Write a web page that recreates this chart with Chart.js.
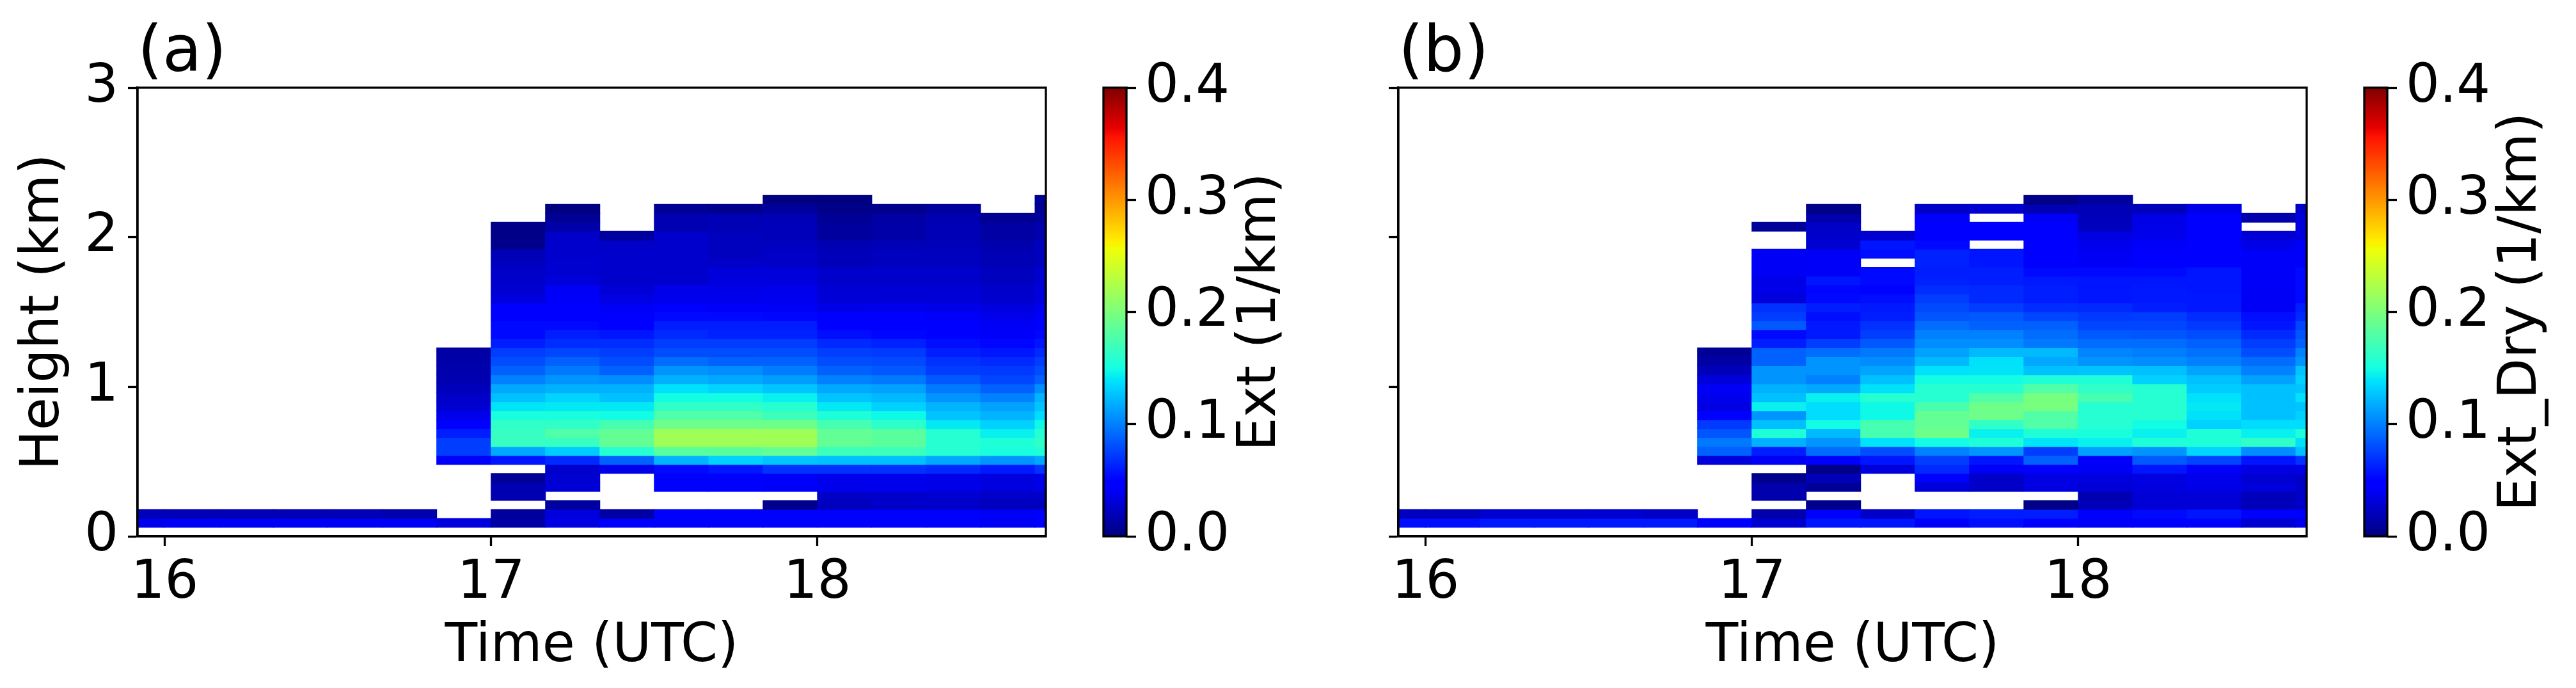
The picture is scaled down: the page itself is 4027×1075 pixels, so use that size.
<!DOCTYPE html>
<html>
<head>
<meta charset="utf-8">
<script src="https://cdn.jsdelivr.net/npm/chart.js@4.4.1/dist/chart.umd.min.js"></script>
<style>
  html, body { margin: 0; padding: 0; background: #fff; }
  #fig { position: relative; width: 4027px; height: 1075px; overflow: hidden; background: #fff; }
  #fig canvas { position: absolute; top: 0; }
</style>
</head>
<body>
<div id="fig">
  <canvas id="heatA" width="1700" height="1075" style="left:0px"></canvas>
  <canvas id="cbarA" width="450" height="1075" style="left:1700px"></canvas>
  <canvas id="heatB" width="1700" height="1075" style="left:1971px"></canvas>
  <canvas id="cbarB" width="356" height="1075" style="left:3671px"></canvas>
</div>
<script>
// time bins (start of each 10 min bin, UTC) and height rows (60 m, first row starts at 0.06 km)
const timeBins = ['15:50', '16:00', '16:10', '16:20', '16:30', '16:40', '16:50', '17:00', '17:10',
                  '17:20', '17:30', '17:40', '17:50', '18:00', '18:10', '18:20', '18:30', '18:40'];
const binMinutes = 10;
const firstRowBottom = 0.06;
const rowDepth = 0.06;

const timeMin = 15 + 55 / 60;
const timeMax = 18.7;
const timeTicks = [16, 17, 18];
const heightTicks = [0, 1, 2, 3];
const cbarTicks = [0, 0.1, 0.2, 0.3, 0.4];
const vMax = 0.4;

// Ext (1/km): one list per time bin, bottom row first, null = no data
const ext = [
  [0.039, 0.021],
  [0.041, 0.020],
  [0.042, 0.019],
  [0.042, 0.019],
  [0.042, 0.019],
  [0.041, 0.016],
  [0.034, null, null, null, null, null, null, 0.043, 0.074, 0.074, 0.062, 0.046, 0.039, 0.029, 0.025, 0.021, 0.018, 0.016, 0.015, 0.013],
  [0.013, 0.011, null, 0.018, 0.018, 0.008, null, 0.058, 0.117, 0.166, 0.167, 0.164, 0.152, 0.140, 0.126, 0.117, 0.101, 0.089, 0.081, 0.074, 0.062, 0.054, 0.054, 0.046, 0.046, 0.034, 0.029, 0.027, 0.025, 0.023, 0.020, 0.005, 0.004, 0.004],
  [0.035, 0.034, 0.011, null, 0.030, 0.029, 0.027, 0.066, 0.130, 0.166, 0.179, 0.164, 0.152, 0.142, 0.134, 0.119, 0.109, 0.097, 0.089, 0.077, 0.068, 0.062, 0.054, 0.046, 0.046, 0.043, 0.041, 0.032, 0.029, 0.029, 0.027, 0.027, 0.025, 0.015, 0.008, 0.001],
  [0.044, 0.014, null, null, null, null, 0.037, 0.089, 0.159, 0.189, 0.189, 0.174, 0.150, 0.142, 0.125, 0.119, 0.105, 0.089, 0.081, 0.075, 0.068, 0.058, 0.046, 0.046, 0.042, 0.035, 0.030, 0.028, 0.027, 0.027, 0.027, 0.026, 0.012],
  [0.046, 0.046, null, null, 0.046, 0.046, 0.054, 0.121, 0.183, 0.218, 0.218, 0.193, 0.179, 0.164, 0.150, 0.138, 0.119, 0.109, 0.093, 0.081, 0.074, 0.066, 0.062, 0.054, 0.044, 0.039, 0.039, 0.027, 0.027, 0.027, 0.027, 0.027, 0.027, 0.018, 0.018, 0.008],
  [0.046, 0.046, null, null, 0.046, 0.046, 0.058, 0.132, 0.183, 0.218, 0.218, 0.193, 0.179, 0.164, 0.150, 0.134, 0.117, 0.105, 0.089, 0.081, 0.074, 0.064, 0.062, 0.054, 0.043, 0.039, 0.037, 0.034, 0.032, 0.025, 0.023, 0.022, 0.022, 0.020, 0.020, 0.005],
  [0.046, 0.046, 0.005, null, 0.043, 0.043, 0.070, 0.128, 0.189, 0.218, 0.218, 0.193, 0.169, 0.159, 0.145, 0.128, 0.111, 0.099, 0.089, 0.081, 0.074, 0.064, 0.062, 0.052, 0.041, 0.040, 0.039, 0.033, 0.032, 0.025, 0.025, 0.023, 0.021, 0.021, 0.020, 0.012, 0.001],
  [0.046, 0.046, 0.023, 0.025, 0.039, 0.039, 0.070, 0.125, 0.169, 0.189, 0.189, 0.174, 0.155, 0.142, 0.128, 0.117, 0.101, 0.089, 0.081, 0.074, 0.066, 0.056, 0.046, 0.046, 0.037, 0.030, 0.030, 0.027, 0.027, 0.021, 0.021, 0.018, 0.011, 0.011, 0.008, 0.004, 0.000],
  [0.046, 0.046, 0.025, 0.027, 0.039, 0.039, 0.070, 0.125, 0.169, 0.184, 0.184, 0.162, 0.147, 0.132, 0.122, 0.113, 0.097, 0.085, 0.079, 0.072, 0.064, 0.052, 0.046, 0.046, 0.039, 0.030, 0.030, 0.027, 0.027, 0.023, 0.023, 0.020, 0.015, 0.015, 0.013, 0.005],
  [0.046, 0.046, 0.025, 0.029, 0.037, 0.037, 0.066, 0.117, 0.159, 0.159, 0.159, 0.142, 0.128, 0.121, 0.109, 0.097, 0.085, 0.075, 0.070, 0.062, 0.056, 0.046, 0.046, 0.043, 0.037, 0.030, 0.030, 0.027, 0.027, 0.023, 0.023, 0.021, 0.020, 0.020, 0.018, 0.011],
  [0.042, 0.042, 0.023, 0.025, 0.034, 0.034, 0.060, 0.109, 0.152, 0.155, 0.145, 0.132, 0.121, 0.113, 0.101, 0.089, 0.077, 0.072, 0.066, 0.058, 0.052, 0.043, 0.041, 0.039, 0.034, 0.027, 0.027, 0.023, 0.023, 0.020, 0.020, 0.017, 0.013, 0.013, 0.007],
  [0.046, 0.046, 0.021, 0.025, 0.036, 0.036, 0.070, 0.117, 0.155, 0.164, 0.159, 0.147, 0.136, 0.128, 0.121, 0.105, 0.089, 0.081, 0.074, 0.066, 0.058, 0.052, 0.046, 0.043, 0.039, 0.034, 0.034, 0.029, 0.029, 0.023, 0.023, 0.023, 0.016, 0.016, 0.011, 0.008, 0.008]
];

// Ext_Dry (1/km), same layout
const extDry = [
  [0.056, 0.023],
  [0.056, 0.023],
  [0.060, 0.029],
  [0.060, 0.029],
  [0.060, 0.029],
  [0.060, 0.025],
  [0.046, null, null, null, null, null, null, 0.032, 0.089, 0.097, 0.083, 0.072, 0.050, 0.035, 0.039, 0.041, 0.032, 0.021, 0.013, 0.008],
  [0.029, 0.016, null, 0.016, 0.016, 0.005, null, 0.041, 0.062, 0.119, 0.155, 0.125, 0.109, 0.145, 0.125, 0.119, 0.109, 0.109, 0.089, 0.089, 0.062, 0.054, 0.085, 0.074, 0.070, 0.032, 0.037, 0.037, 0.041, 0.041, 0.041, null, null, 0.010],
  [0.058, 0.046, 0.005, null, 0.008, 0.021, 0.004, 0.046, 0.093, 0.109, 0.122, 0.150, 0.136, 0.136, 0.144, 0.117, 0.101, 0.109, 0.109, 0.093, 0.074, 0.060, 0.060, 0.056, 0.062, 0.054, 0.052, 0.058, 0.043, 0.043, 0.041, 0.029, 0.027, 0.025, 0.016, 0.004],
  [0.058, 0.025, null, null, null, null, 0.032, 0.058, 0.081, 0.138, 0.174, 0.174, 0.147, 0.147, 0.159, 0.138, 0.125, 0.115, 0.105, 0.097, 0.085, 0.074, 0.070, 0.062, 0.060, 0.056, 0.050, 0.054, 0.054, null, 0.056, 0.058, 0.029],
  [0.043, 0.058, null, null, 0.032, 0.046, 0.066, 0.074, 0.101, 0.150, 0.193, 0.189, 0.189, 0.176, 0.159, 0.159, 0.150, 0.138, 0.122, 0.113, 0.105, 0.101, 0.093, 0.083, 0.079, 0.074, 0.068, 0.064, 0.062, 0.064, 0.064, 0.054, 0.046, 0.046, 0.046, 0.025],
  [0.056, 0.062, null, null, 0.025, 0.025, 0.041, 0.058, 0.109, 0.155, 0.144, 0.164, 0.193, 0.193, 0.179, 0.159, 0.150, 0.140, 0.138, 0.122, 0.105, 0.101, 0.089, 0.085, 0.074, 0.066, 0.066, 0.062, 0.062, 0.058, 0.058, null, 0.046, 0.046, null, 0.029],
  [0.046, 0.062, 0.004, null, 0.035, 0.035, 0.043, 0.089, 0.074, 0.140, 0.155, 0.179, 0.179, 0.198, 0.198, 0.179, 0.155, 0.126, 0.117, 0.122, 0.097, 0.093, 0.089, 0.077, 0.068, 0.062, 0.062, 0.060, 0.054, 0.046, 0.046, 0.046, 0.046, 0.046, 0.043, 0.020, 0.004],
  [0.043, 0.046, 0.021, 0.018, 0.030, 0.034, 0.041, 0.043, 0.113, 0.144, 0.152, 0.159, 0.159, 0.159, 0.174, 0.164, 0.155, 0.128, 0.109, 0.103, 0.093, 0.085, 0.077, 0.072, 0.066, 0.058, 0.058, 0.058, 0.054, 0.041, 0.041, 0.039, 0.035, 0.023, 0.021, 0.020, 0.011],
  [0.046, 0.054, 0.030, 0.030, 0.034, 0.035, 0.058, 0.085, 0.109, 0.155, 0.145, 0.150, 0.159, 0.159, 0.159, 0.159, 0.132, 0.125, 0.105, 0.099, 0.093, 0.083, 0.077, 0.074, 0.062, 0.060, 0.060, 0.058, 0.054, 0.046, 0.046, 0.043, 0.039, 0.037, 0.037, 0.021],
  [0.046, 0.058, 0.030, 0.030, 0.037, 0.039, 0.043, 0.077, 0.134, 0.155, 0.155, 0.132, 0.138, 0.142, 0.138, 0.130, 0.125, 0.115, 0.101, 0.095, 0.089, 0.081, 0.072, 0.068, 0.060, 0.060, 0.058, 0.058, 0.058, 0.046, 0.046, 0.046, 0.046, 0.046, 0.046, 0.037],
  [0.029, 0.046, 0.021, 0.021, 0.032, 0.029, 0.035, 0.058, 0.105, 0.164, 0.145, 0.136, 0.125, 0.125, 0.125, 0.126, 0.113, 0.101, 0.093, 0.081, 0.074, 0.066, 0.058, 0.056, 0.041, 0.041, 0.041, 0.043, 0.043, 0.043, 0.043, 0.037, 0.030, null, 0.016],
  [0.039, 0.046, 0.025, 0.025, 0.025, 0.025, 0.037, 0.070, 0.125, 0.138, 0.155, 0.136, 0.132, 0.128, 0.138, 0.128, 0.132, 0.128, 0.109, 0.101, 0.089, 0.083, 0.077, 0.066, 0.062, 0.054, 0.054, 0.054, 0.054, 0.043, 0.043, 0.043, 0.034, 0.034, 0.034, 0.025]
];

Chart.defaults.font.family = "'DejaVu Sans', sans-serif";
Chart.defaults.color = '#000';

// matplotlib 'jet' segment data
const jetRed = [[0, 0], [0.35, 0], [0.66, 1], [0.89, 1], [1, 0.5]];
const jetGreen = [[0, 0], [0.125, 0], [0.375, 1], [0.64, 1], [0.91, 0], [1, 0]];
const jetBlue = [[0, 0.5], [0.11, 1], [0.34, 1], [0.65, 0], [1, 0]];

function interp(pts, t) {
    for (let i = 1; i < pts.length; i++) {
        if (t <= pts[i][0]) {
            const [x0, y0] = pts[i - 1];
            const [x1, y1] = pts[i];
            return y0 + (y1 - y0) * (t - x0) / (x1 - x0);
        }
    }
    return pts[pts.length - 1][1];
}

function jet(t) {
    t = Math.min(1, Math.max(0, t));
    t = Math.min(255, Math.floor(t * 256)) / 255;
    const c = [jetRed, jetGreen, jetBlue].map(p => Math.round(interp(p, t) * 255));
    return `rgb(${c[0]},${c[1]},${c[2]})`;
}

function toHours(s) {
    const [h, m] = s.split(':').map(Number);
    return h + m / 60;
}

function cells(cols) {
    const out = [];
    cols.forEach((col, i) => {
        const xc = toHours(timeBins[i]) + binMinutes / 120;
        col.forEach((v, r) => {
            if (v === null) return;
            const lo = firstRowBottom + r * rowDepth;
            out.push({ x: xc, y: [lo, lo + rowDepth], v: v });
        });
    });
    return out;
}

const LW = 3.3;
const FS = 83;

const framePlugin = {
    id: 'frame',
    afterDraw(chart) {
        const a = chart.chartArea;
        const ctx = chart.ctx;
        ctx.save();
        ctx.strokeStyle = '#000';
        ctx.lineWidth = LW;
        ctx.strokeRect(a.left, a.top, a.right - a.left, a.bottom - a.top);
        ctx.restore();
    }
};

const panelTag = {
    id: 'panelTag',
    afterDraw(chart, args, opts) {
        if (!opts.text) return;
        const ctx = chart.ctx;
        ctx.save();
        ctx.font = "100px 'DejaVu Sans', sans-serif";
        ctx.fillStyle = '#000';
        ctx.textAlign = 'left';
        ctx.textBaseline = 'alphabetic';
        ctx.fillText(opts.text, chart.chartArea.left, chart.chartArea.top - 26);
        ctx.restore();
    }
};

const cbarLabel = {
    id: 'cbarLabel',
    afterDraw(chart, args, opts) {
        if (!opts.text) return;
        const a = chart.chartArea;
        const ctx = chart.ctx;
        ctx.save();
        ctx.translate(a.right + 210, (a.top + a.bottom) / 2);
        ctx.rotate(-Math.PI / 2);
        ctx.font = FS + "px 'DejaVu Sans', sans-serif";
        ctx.fillStyle = '#000';
        ctx.textAlign = 'center';
        ctx.textBaseline = 'middle';
        ctx.fillText(opts.text, 0, 0);
        ctx.restore();
    }
};

function makeHeat(id, cols, tag, showY) {
    new Chart(document.getElementById(id), {
        type: 'bar',
        data: {
            datasets: [{
                data: cells(cols),
                backgroundColor: ctx => ctx.raw ? jet(ctx.raw.v / vMax) : 'rgba(0,0,0,0)',
                borderWidth: 0,
                inflateAmount: 0.5,
                categoryPercentage: 1,
                barPercentage: 1,
                clip: 0
            }]
        },
        options: {
            responsive: false,
            animation: false,
            layout: { padding: { top: 137, right: 65, bottom: 0, left: 0 } },
            plugins: {
                legend: { display: false },
                tooltip: { enabled: false },
                panelTag: { text: tag }
            },
            scales: {
                x: {
                    type: 'linear',
                    min: timeMin,
                    max: timeMax,
                    offset: false,
                    afterBuildTicks: s => { s.ticks = timeTicks.map(v => ({ value: v })); },
                    afterFit: s => { s.height = 237; },
                    grid: { offset: false, drawOnChartArea: false, drawTicks: true, tickLength: 15, tickWidth: LW, tickColor: '#000' },
                    border: { display: true, color: '#000', width: LW },
                    ticks: { font: { size: FS }, padding: 10, maxRotation: 0, callback: v => String(v) },
                    title: { display: true, text: 'Time (UTC)', font: { size: FS }, padding: { top: 0, bottom: 14 } }
                },
                y: {
                    type: 'linear',
                    min: 0,
                    max: 3,
                    afterBuildTicks: s => { s.ticks = heightTicks.map(v => ({ value: v })); },
                    afterFit: s => { s.width = 215; },
                    grid: { drawOnChartArea: false, drawTicks: true, tickLength: 15, tickWidth: LW, tickColor: '#000' },
                    border: { display: true, color: '#000', width: LW },
                    ticks: { display: showY, font: { size: FS }, padding: 15, callback: v => String(v) },
                    title: { display: showY, text: 'Height (km)', font: { size: FS }, padding: { top: 20, bottom: 0 } }
                }
            }
        },
        plugins: [framePlugin, panelTag]
    });
}

function makeCbar(id, label) {
    const canvas = document.getElementById(id);
    const barWidth = 36;
    new Chart(canvas, {
        type: 'bar',
        data: {
            labels: [''],
            datasets: [{
                data: [[0, vMax]],
                backgroundColor: ctx => {
                    const a = ctx.chart.chartArea;
                    if (!a) return 'rgba(0,0,0,0)';
                    const g = ctx.chart.ctx.createLinearGradient(0, a.bottom, 0, a.top);
                    for (let i = 0; i <= 255; i++) g.addColorStop(i / 255, jet(i / 255));
                    return g;
                },
                borderWidth: 0,
                categoryPercentage: 1,
                barPercentage: 1
            }]
        },
        options: {
            responsive: false,
            animation: false,
            layout: { padding: { top: 137, right: 0, bottom: 237, left: 25 } },
            plugins: {
                legend: { display: false },
                tooltip: { enabled: false },
                cbarLabel: { text: label }
            },
            scales: {
                x: { display: false },
                y: {
                    position: 'right',
                    min: 0,
                    max: vMax,
                    afterBuildTicks: s => { s.ticks = cbarTicks.map(v => ({ value: v })); },
                    afterFit: s => { s.width = canvas.width - 25 - barWidth; },
                    grid: { drawOnChartArea: false, drawTicks: true, tickLength: 15, tickWidth: LW, tickColor: '#000' },
                    border: { display: false },
                    ticks: { font: { size: FS }, padding: 14, callback: v => v.toFixed(1) }
                }
            }
        },
        plugins: [framePlugin, cbarLabel]
    });
}

makeHeat('heatA', ext, '(a)', true);
makeCbar('cbarA', 'Ext (1/km)');
makeHeat('heatB', extDry, '(b)', false);
makeCbar('cbarB', 'Ext_Dry (1/km)');
</script>
</body>
</html>
